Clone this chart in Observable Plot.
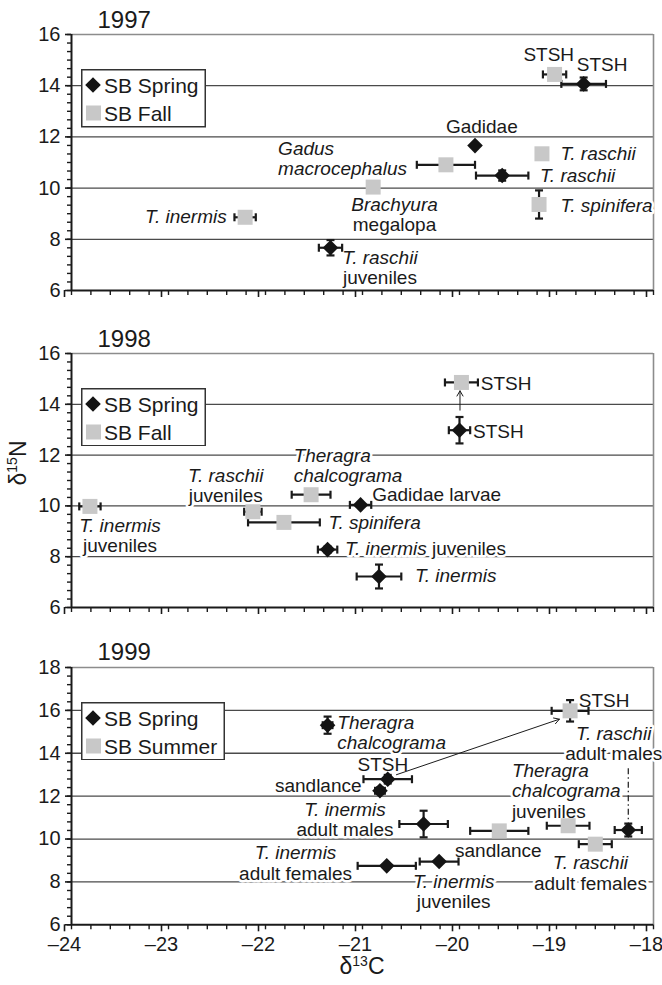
<!DOCTYPE html>
<html><head><meta charset="utf-8">
<script src="https://cdn.jsdelivr.net/npm/d3@7"></script>
<script src="https://cdn.jsdelivr.net/npm/@observablehq/plot@0.6"></script>
<style>
body{margin:0;background:#fff;font-family:"Liberation Sans",Arial,sans-serif;color:#1a1a1a;}
#wrap{position:relative;width:662px;height:985px;overflow:hidden;}
.abs{position:absolute;}
</style></head>
<body><div id="wrap"></div>
<script>
// ---------- data ----------
const xTicks = [-24, -23, -22, -21, -20, -19, -18];
const yTicks97 = [6, 8, 10, 12, 14, 16];
const yTicks98 = [6, 8, 10, 12, 14, 16];
const yTicks99 = [6, 8, 10, 12, 14, 16, 18];
const grid97 = [8, 10, 12, 14];
const grid98 = [8, 10, 12, 14];
const grid99 = [8, 10, 12, 14, 16];
const legend97 = ["SB Spring", "SB Fall"];
const legend98 = ["SB Spring", "SB Fall"];
const legend99 = ["SB Spring", "SB Summer"];

// [season, taxon, d13C, d15N, d13C error, d15N error]
const rows1997 = [
  ["SB Spring", "STSH", -18.72, 14.07, 0.23, 0.25],
  ["SB Spring", "Gadidae", -19.84, 11.66, 0, 0],
  ["SB Spring", "T. raschii", -19.56, 10.49, 0.27, 0.2],
  ["SB Spring", "T. raschii juveniles", -21.33, 7.67, 0.12, 0.3],
  ["SB Fall", "STSH", -19.02, 14.44, 0.12, 0.2],
  ["SB Fall", "Gadus macrocephalus", -20.14, 10.91, 0.3, 0],
  ["SB Fall", "Brachyura megalopa", -20.89, 10.04, 0, 0],
  ["SB Fall", "T. raschii", -19.15, 11.34, 0, 0],
  ["SB Fall", "T. spinifera", -19.18, 9.36, 0, 0.55],
  ["SB Fall", "T. inermis", -22.21, 8.86, 0.11, 0]
];
const rows1998 = [
  ["SB Spring", "STSH", -20.0, 12.98, 0.11, 0.52],
  ["SB Spring", "Gadidae larvae", -21.02, 10.04, 0.11, 0],
  ["SB Spring", "T. inermis juveniles", -21.36, 8.28, 0.1, 0.12],
  ["SB Spring", "T. inermis", -20.83, 7.22, 0.23, 0.47],
  ["SB Fall", "STSH", -19.98, 14.86, 0.17, 0],
  ["SB Fall", "Theragra chalcograma", -21.53, 10.44, 0.2, 0],
  ["SB Fall", "T. raschii juveniles", -22.13, 9.77, 0.09, 0],
  ["SB Fall", "T. spinifera", -21.81, 9.35, 0.37, 0],
  ["SB Fall", "T. inermis juveniles", -23.81, 9.98, 0.11, 0]
];
const rows1999 = [
  ["SB Spring", "Theragra chalcograma", -21.36, 15.31, 0.05, 0.4],
  ["SB Spring", "STSH", -20.74, 12.79, 0.25, 0.2],
  ["SB Spring", "sandlance", -20.82, 12.25, 0.05, 0.15],
  ["SB Spring", "T. inermis adult males", -20.37, 10.7, 0.25, 0.62],
  ["SB Spring", "T. inermis adult females", -20.75, 8.75, 0.3, 0],
  ["SB Spring", "T. inermis juveniles", -20.21, 8.95, 0.2, 0],
  ["SB Spring", "T. raschii adult males", -18.26, 10.42, 0.14, 0.3],
  ["SB Summer", "STSH", -18.86, 15.98, 0.19, 0.5],
  ["SB Summer", "sandlance", -19.59, 10.38, 0.3, 0],
  ["SB Summer", "Theragra chalcograma juveniles", -18.88, 10.62, 0.22, 0],
  ["SB Summer", "T. raschii adult females", -18.6, 9.76, 0.17, 0]
];

// annotations: [text (*italic*), x, y, anchor]
const labels1997 = [
  ["STSH", -19.08, 15.21, "middle"],
  ["STSH", -18.53, 14.84, "middle"],
  ["Gadidae", -19.77, 12.39, "middle"],
  ["*Gadus*\n*macrocephalus*", -21.87, 11.14, "start"],
  ["*T. raschii*", -18.96, 11.34, "start"],
  ["*T. raschii*", -19.17, 10.49, "start"],
  ["*Brachyura*\nmegalopa", -20.67, 8.97, "middle"],
  ["*T. inermis*", -22.40, 8.89, "end"],
  ["*T. spinifera*", -18.96, 9.32, "start"],
  ["*T. raschii*\njuveniles", -20.82, 6.91, "middle"]
];
const labels1998 = [
  ["STSH", -19.78, 14.80, "start"],
  ["STSH", -19.86, 12.94, "start"],
  ["*Theragra*\n*chalcograma*", -21.71, 11.58, "start"],
  ["*T. raschii*\njuveniles", -22.41, 10.79, "middle"],
  ["Gadidae larvae", -20.90, 10.44, "start"],
  ["*T. spinifera*", -21.35, 9.35, "start"],
  ["*T. inermis* juveniles", -21.18, 8.31, "start"],
  ["*T. inermis*", -20.46, 7.25, "start"],
  ["*T. inermis*\njuveniles", -23.50, 8.82, "middle"]
];
const labels1999 = [
  ["*Theragra*\n*chalcograma*", -21.26, 14.97, "start"],
  ["STSH", -20.79, 13.49, "middle"],
  ["sandlance", -21.01, 12.48, "end"],
  ["*T. inermis*\nadult males", -21.18, 10.90, "middle"],
  ["*T. inermis*\nadult females", -21.69, 8.88, "middle"],
  ["*T. inermis*\njuveniles", -20.06, 7.55, "middle"],
  ["sandlance", -19.60, 9.48, "middle"],
  ["*Theragra*\n*chalcograma*\njuveniles", -19.46, 12.24, "start"],
  ["STSH", -18.77, 16.45, "start"],
  ["*T. raschii*\nadult males", -18.41, 14.47, "middle"],
  ["*T. raschii*\nadult females", -18.65, 8.41, "middle"]
];
// arrows [x1, y1, x2, y2]
const arrows1998 = [[-19.995, 13.77, -19.995, 14.53]];
const arrows1999 = [[-20.65, 13.0, -18.97, 15.59]];
const dashed1999 = [[-18.26, 13.3, -18.26, 10.85]];

// ---------- drawing ----------
const wrap = document.getElementById("wrap");
const sym = f => ({draw(c, size) { f(c, Math.sqrt(size / Math.PI)); }});
const diamondSym = sym((c, h) => { c.moveTo(0, -h); c.lineTo(h, 0); c.lineTo(0, h); c.lineTo(-h, 0); c.closePath(); });
const squareSym = sym((c, h) => { c.moveTo(-h, -h); c.lineTo(h, -h); c.lineTo(h, h); c.lineTo(-h, h); c.closePath(); });
const vlineSym = sym((c, h) => { c.moveTo(0, -h); c.lineTo(0, h); });
const hlineSym = sym((c, h) => { c.moveTo(-h, 0); c.lineTo(h, 0); });
const fmt = d => (d < 0 ? "\u2013" : "") + Math.abs(d);
const range = (a, n, s) => d3.range(n + 1).map(i => +(a + i * s).toFixed(4));

function styleText(svg) {
  svg.querySelectorAll("text").forEach(t => {
    const spans = t.querySelectorAll("tspan");
    const targets = spans.length ? [...spans] : [t];
    targets.forEach(el => {
      const s = el.textContent;
      if (!s.includes("*")) return;
      el.textContent = "";
      s.split("*").forEach((seg, i) => {
        if (!seg) return;
        const sp = document.createElementNS("http://www.w3.org/2000/svg", "tspan");
        if (i % 2 === 1) sp.setAttribute("font-style", "italic");
        sp.textContent = seg;
        el.appendChild(sp);
      });
    });
  });
}

function panel(cfg) {
  const mT = 34, mB = cfg.bottom ? 61 : 12;
  const H = mT + cfg.ph + mB;
  const [y0, y1] = [cfg.yTicks[0], cfg.yTicks[cfg.yTicks.length - 1]];
  const pts = cfg.rows.map(r => ({season: r[0], name: r[1], x: r[2], y: r[3], ex: r[4], ey: r[5]}));
  const spring = pts.filter(d => d.season === "SB Spring");
  const other = pts.filter(d => d.season !== "SB Spring");
  const hb = pts.filter(d => d.ex > 0), vb = pts.filter(d => d.ey > 0);
  const capsH = hb.flatMap(d => [{x: d.x - d.ex, y: d.y}, {x: d.x + d.ex, y: d.y}]);
  const capsV = vb.flatMap(d => [{x: d.x, y: d.y - d.ey}, {x: d.x, y: d.y + d.ey}]);
  const labs = cfg.labels.map(l => ({t: l[0], x: l[1], y: l[2], a: l[3]}));
  const byAnchor = a => labs.filter(l => l.a === a);
  const arrows = (cfg.arrows || []).map(a => ({x1: a[0], y1: a[1], x2: a[2], y2: a[3]}));
  const dashed = (cfg.dashed || []).map(a => ({x1: a[0], y1: a[1], x2: a[2], y2: a[3]}));
  const textOpts = a => ({x: "x", y: "y", text: "t", textAnchor: a, lineAnchor: "middle", fontSize: 19,
    lineHeight: 1.06, fill: "#1a1a1a", stroke: "white", strokeWidth: 5});
  const chart = Plot.plot({
    width: 662, height: H,
    marginLeft: 71, marginRight: 9, marginTop: mT, marginBottom: mB,
    x: {domain: [xTicks[0], xTicks[xTicks.length - 1]]},
    y: {domain: [y0, y1]},
    style: {fontFamily: "'Liberation Sans', Arial, sans-serif", fontSize: "20px", background: "transparent", overflow: "visible", color: "#1a1a1a"},
    marks: [
      Plot.ruleY(cfg.grid, {stroke: "#4a4a4a", strokeWidth: 1.3}),
      Plot.ruleY([y1], {stroke: "#8c8c8c", strokeWidth: 1.6}),
      Plot.ruleX([xTicks[xTicks.length - 1]], {stroke: "#8c8c8c", strokeWidth: 1.6}),
      Plot.text(byAnchor("start"), textOpts("start")),
      Plot.text(byAnchor("middle"), textOpts("middle")),
      Plot.text(byAnchor("end"), textOpts("end")),
      Plot.link(dashed, {x1: "x1", y1: "y1", x2: "x2", y2: "y2", stroke: "#1a1a1a", strokeWidth: 1.2, strokeDasharray: "6,3,1.5,3"}),
      Plot.arrow(arrows, {x1: "x1", y1: "y1", x2: "x2", y2: "y2", stroke: "#1a1a1a", strokeWidth: 1, headLength: 9, bend: 0}),
      Plot.ruleY(hb, {y: "y", x1: d => d.x - d.ex, x2: d => d.x + d.ex, stroke: "#1a1a1a", strokeWidth: 2.2}),
      Plot.ruleX(vb, {x: "x", y1: d => d.y - d.ey, y2: d => d.y + d.ey, stroke: "#1a1a1a", strokeWidth: 2.2}),
      Plot.dot(capsH, {x: "x", y: "y", symbol: vlineSym, r: 4, fill: "none", stroke: "#1a1a1a", strokeWidth: 2.2}),
      Plot.dot(capsV, {x: "x", y: "y", symbol: hlineSym, r: 4, fill: "none", stroke: "#1a1a1a", strokeWidth: 2.2}),
      Plot.dot(other, {x: "x", y: "y", symbol: squareSym, r: 7.5, fill: "#c8c8c8", stroke: "none"}),
      Plot.dot(spring, {x: "x", y: "y", symbol: diamondSym, r: 7.8, fill: "#141414", stroke: "none"}),
      Plot.axisY(cfg.yTicks, {tickSize: 6, tickPadding: 5, tickFormat: fmt, label: null, strokeWidth: 1.6}),
      Plot.axisY(cfg.yMinor, {tickSize: 4, tickFormat: () => "", label: null, strokeWidth: 1.4}),
      Plot.axisX(xTicks, {tickSize: 7, tickPadding: 5, tickFormat: cfg.bottom ? fmt : () => "", label: null, strokeWidth: 1.6, dx: -7}),
      Plot.axisX(range(-24, 30, 0.2), {tickSize: 5, tickFormat: () => "", label: null, strokeWidth: 1.4}),
      Plot.ruleX([xTicks[0]], {stroke: "#1a1a1a", strokeWidth: 2}),
      Plot.ruleY([y0], {stroke: "#1a1a1a", strokeWidth: 2}),
      Plot.text([cfg.year], {frameAnchor: "top-left", dx: 26, dy: -7, lineAnchor: "bottom", fontSize: 24, fill: "#1a1a1a"})
    ]
  });
  chart.style.position = "absolute";
  chart.style.left = "0px";
  chart.style.top = cfg.top + "px";
  styleText(chart);
  wrap.appendChild(chart);

  // legend box
  const lw = cfg.legendWidth, lh = 58.5;
  const s = d3.create("svg").attr("width", lw).attr("height", lh)
    .style("position", "absolute").style("left", "81px").style("top", (cfg.top + mT + 35) + "px");
  s.append("rect").attr("x", 0.75).attr("y", 0.75).attr("width", lw - 1.5).attr("height", lh - 1.5)
    .attr("fill", "#fff").attr("stroke", "#333").attr("stroke-width", 1.5);
  cfg.legend.forEach((name, i) => {
    const cy = 16 + i * 28;
    if (name === "SB Spring")
      s.append("path").attr("d", `M12,${cy - 7.8}L19.8,${cy}L12,${cy + 7.8}L4.2,${cy}Z`).attr("fill", "#141414");
    else
      s.append("rect").attr("x", 5).attr("y", cy - 7.5).attr("width", 15).attr("height", 15).attr("fill", "#c8c8c8");
    s.append("text").attr("x", 23).attr("y", cy + 7.5).attr("font-size", 21)
      .attr("font-family", "'Liberation Sans', Arial, sans-serif").attr("fill", "#1a1a1a").text(name);
  });
  wrap.appendChild(s.node());
}

panel({year: "1997", rows: rows1997, labels: labels1997, yTicks: yTicks97, yMinor: range(6, 30, 1 / 3),
  grid: grid97, top: 0, ph: 256, legend: legend97, legendWidth: 125});
panel({year: "1998", rows: rows1998, labels: labels1998, yTicks: yTicks98, yMinor: range(6, 30, 1 / 3),
  grid: grid98, top: 318.7, ph: 254, legend: legend98, legendWidth: 125, arrows: arrows1998});
panel({year: "1999", rows: rows1999, labels: labels1999, yTicks: yTicks99, yMinor: range(6, 30, 0.4),
  grid: grid99, top: 632.7, ph: 257.3, legend: legend99, legendWidth: 144, arrows: arrows1999, dashed: dashed1999, bottom: true});

// axis titles
const yt = document.createElement("div");
yt.className = "abs";
yt.style.cssText = "left:18px;top:463px;font-size:23px;line-height:1;white-space:nowrap;transform:translate(-50%,-50%) rotate(-90deg);";
yt.innerHTML = "\u03b4<span style='font-size:14px;position:relative;top:-9px'>15</span>N";
wrap.appendChild(yt);
const xt = document.createElement("div");
xt.className = "abs";
xt.style.cssText = "left:362px;top:955px;font-size:23px;line-height:1;white-space:nowrap;transform:translateX(-50%);";
xt.innerHTML = "\u03b4<span style='font-size:14px;position:relative;top:-8px'>13</span>C";
wrap.appendChild(xt);
</script></body></html>
